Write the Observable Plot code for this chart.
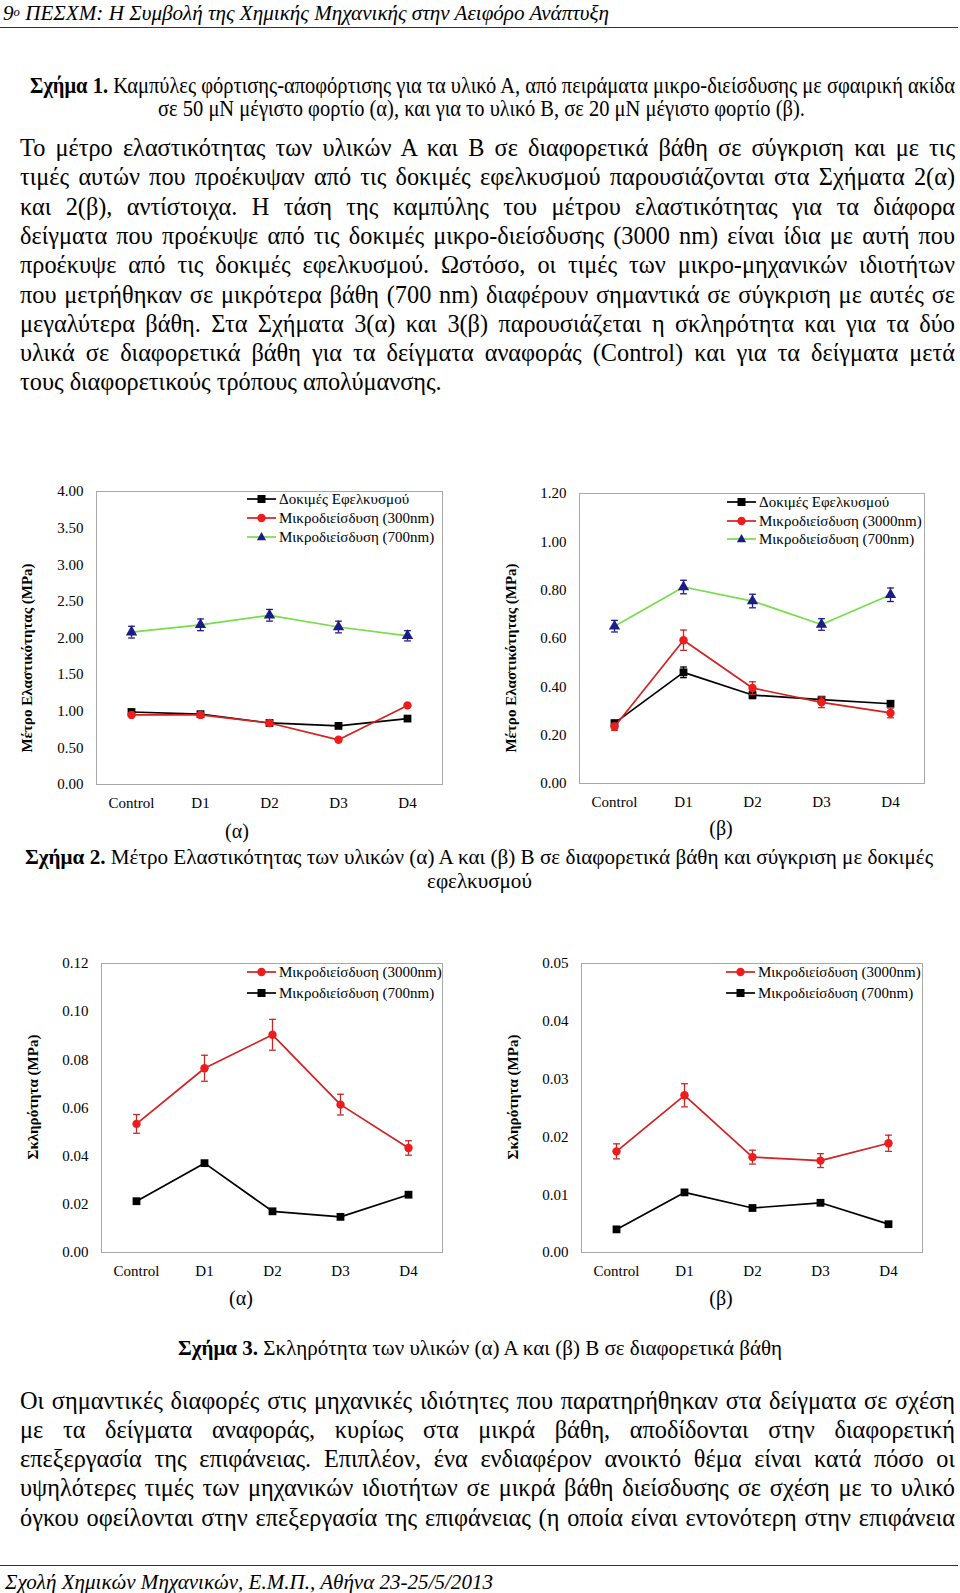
<!DOCTYPE html>
<html><head><meta charset="utf-8">
<script src="https://cdn.jsdelivr.net/npm/d3@7"></script>
<script src="https://cdn.jsdelivr.net/npm/@observablehq/plot@0.6"></script>
<style>
html,body{margin:0;padding:0;background:#fff;}
#page{position:relative;width:960px;height:1593px;overflow:hidden;font-family:"Liberation Serif","Times New Roman",serif;color:#000;}
.abs{position:absolute;white-space:nowrap;}
.rule{position:absolute;left:0;width:958px;height:0;border-top:1.5px solid #333;}
sup{font-size:60%;vertical-align:top;position:relative;top:-1px;}
</style></head><body><div id="page"></div>
<script>
// ---------- data ----------
const categories = ["Control", "D1", "D2", "D3", "D4"];

// Σχήμα 2(α): Μέτρο Ελαστικότητας, υλικό Α
const e2a_tensile = [0.99, 0.96, 0.84, 0.80, 0.90];
const e2a_300 = [0.95, 0.95, 0.84, 0.61, 1.08];
const e2a_700 = [2.08, 2.18, 2.31, 2.15, 2.03];
const e2a_700_err = [0.08, 0.08, 0.08, 0.08, 0.07];
const yTicks2a = [0, 0.5, 1, 1.5, 2, 2.5, 3, 3.5, 4];

// Σχήμα 2(β): Μέτρο Ελαστικότητας, υλικό Β
const e2b_tensile = [0.25, 0.46, 0.366, 0.347, 0.33];
const e2b_tensile_err = [0.01, 0.022, 0.015, 0.01, 0.01];
const e2b_3000 = [0.235, 0.593, 0.395, 0.336, 0.292];
const e2b_3000_err = [0.015, 0.042, 0.026, 0.022, 0.02];
const e2b_700 = [0.651, 0.813, 0.755, 0.658, 0.781];
const e2b_700_err = [0.024, 0.028, 0.028, 0.024, 0.028];
const yTicks2b = [0, 0.2, 0.4, 0.6, 0.8, 1.0, 1.2];

// Σχήμα 3(α): Σκληρότητα, υλικό Α
const h3a_3000 = [0.0534, 0.0765, 0.0904, 0.0614, 0.0434];
const h3a_3000_err = [0.0039, 0.0054, 0.0064, 0.0043, 0.003];
const h3a_700 = [0.0213, 0.0371, 0.0171, 0.0148, 0.024];
const h3a_700_err = [0, 0.001, 0, 0, 0];
const yTicks3a = [0, 0.02, 0.04, 0.06, 0.08, 0.10, 0.12];

// Σχήμα 3(β): Σκληρότητα, υλικό Β
const h3b_3000 = [0.0175, 0.0272, 0.0165, 0.0159, 0.0189];
const h3b_3000_err = [0.0013, 0.002, 0.0012, 0.0012, 0.0014];
const h3b_700 = [0.004, 0.0104, 0.0077, 0.0086, 0.0049];
const yTicks3b = [0, 0.01, 0.02, 0.03, 0.04, 0.05];

const legend2a = ["Δοκιμές Εφελκυσμού", "Μικροδιείσδυση (300nm)", "Μικροδιείσδυση (700nm)"];
const legend2b = ["Δοκιμές Εφελκυσμού", "Μικροδιείσδυση (3000nm)", "Μικροδιείσδυση (700nm)"];
const legend3 = ["Μικροδιείσδυση (3000nm)", "Μικροδιείσδυση (700nm)"];
const yTitle2 = "Μέτρο Ελαστικότητας (MPa)";
const yTitle3 = "Σκληρότητα (MPa)";

const para1 = [
 "Το μέτρο ελαστικότητας των υλικών Α και Β σε διαφορετικά βάθη σε σύγκριση και με τις",
 "τιμές αυτών που προέκυψαν από τις δοκιμές εφελκυσμού παρουσιάζονται στα Σχήματα 2(α)",
 "και 2(β), αντίστοιχα. Η τάση της καμπύλης του μέτρου ελαστικότητας για τα διάφορα",
 "δείγματα που προέκυψε από τις δοκιμές μικρο-διείσδυσης (3000 nm) είναι ίδια με αυτή που",
 "προέκυψε από τις δοκιμές εφελκυσμού. Ωστόσο, οι τιμές των μικρο-μηχανικών ιδιοτήτων",
 "που μετρήθηκαν σε μικρότερα βάθη (700 nm) διαφέρουν σημαντικά σε σύγκριση με αυτές σε",
 "μεγαλύτερα βάθη. Στα Σχήματα 3(α) και 3(β) παρουσιάζεται η σκληρότητα και για τα δύο",
 "υλικά σε διαφορετικά βάθη για τα δείγματα αναφοράς (Control) και για τα δείγματα μετά",
 "τους διαφορετικούς τρόπους απολύμανσης."
];
const para2 = [
 "Οι σημαντικές διαφορές στις μηχανικές ιδιότητες που παρατηρήθηκαν στα δείγματα σε σχέση",
 "με τα δείγματα αναφοράς, κυρίως στα μικρά βάθη, αποδίδονται στην διαφορετική",
 "επεξεργασία της επιφάνειας. Επιπλέον, ένα ενδιαφέρον ανοικτό θέμα είναι κατά πόσο οι",
 "υψηλότερες τιμές των μηχανικών ιδιοτήτων σε μικρά βάθη διείσδυσης σε σχέση με το υλικό",
 "όγκου οφείλονται στην επεξεργασία της επιφάνειας (η οποία είναι εντονότερη στην επιφάνεια"
];

// ---------- styles ----------
const RED = "#ee1c1c", REDLINE = "#d42020", GREEN = "#77dd4a", NAVY = "#1c1c86";
const S = {
  black: {line: "#000", fill: "#000", err: "#000", symbol: "square", r: 4.4},
  red: {line: REDLINE, fill: RED, err: "#c62828", symbol: "circle", r: 4.2},
  green: {line: GREEN, fill: NAVY, err: NAVY, symbol: "triangle", r: 4.2}
};

const page = document.getElementById("page");
const FONT = '"Liberation Serif","Times New Roman",serif';

const capSymbol = {draw(ctx, size) { const w = Math.sqrt(size / Math.PI); ctx.moveTo(-w, 0); ctx.lineTo(w, 0); }};

function seriesMarks(vals, errs, s) {
  const rows = categories.map((c, i) => ({cat: c, v: vals[i], e: errs ? errs[i] : 0}));
  const er = rows.filter(d => d.e > 0);
  const capOpts = {x: "cat", symbol: capSymbol, r: 3.4, stroke: s.err, strokeWidth: 1.3, fill: "none"};
  return [
    Plot.line(rows, {x: "cat", y: "v", stroke: s.line, strokeWidth: 1.7}),
    Plot.ruleX(er, {x: "cat", y1: d => d.v - d.e, y2: d => d.v + d.e, stroke: s.err, strokeWidth: 1.3}),
    Plot.dot(er, {...capOpts, y: d => d.v + d.e}),
    Plot.dot(er, {...capOpts, y: d => d.v - d.e}),
    Plot.dot(rows, {x: "cat", y: "v", symbol: s.symbol, r: s.r, fill: s.fill, stroke: "none"})
  ];
}

function chart(c) {
  const svg = Plot.plot({
    width: 480, height: c.height,
    marginLeft: c.ml, marginRight: c.mr, marginTop: c.mt, marginBottom: c.mb,
    style: {fontFamily: FONT, fontSize: "15px", color: "#000", background: "transparent", overflow: "visible"},
    x: {type: "point", domain: categories, padding: 0.5, label: null, tickSize: 0, tickPadding: 13},
    y: {domain: [0, c.ticks[c.ticks.length - 1]], ticks: c.ticks, tickFormat: d => d.toFixed(2), label: null, tickSize: 0, tickPadding: 13},
    marks: [
      Plot.frame({stroke: "#a8a8a8", strokeWidth: 1}),
      ...c.series.flatMap(s => seriesMarks(s.v, s.e, s.style))
    ]
  });
  svg.style.position = "absolute";
  svg.style.left = c.left + "px";
  svg.style.top = c.top + "px";
  page.appendChild(svg);
}

function text(html, o) {
  const fs = o.fs || 24, lh = o.lh || Math.round(fs * 1.2);
  const d = document.createElement("div");
  d.className = "abs";
  d.style.fontSize = fs + "px";
  d.style.lineHeight = lh + "px";
  d.style.top = (o.y - lh / 2) + "px";
  if (o.italic) d.style.fontStyle = "italic";
  if (o.bold) d.style.fontWeight = "bold";
  const sp = document.createElement("span");
  sp.style.display = "inline-block";
  sp.innerHTML = html;
  d.appendChild(sp);
  page.appendChild(d);
  const nat = sp.getBoundingClientRect().width;
  let scale = o.scale || null;
  if (o.fitW) scale = o.fitW / nat;
  if (o.justifyW) {
    if (nat > o.justifyW) { scale = o.justifyW / nat; }
    else {
      d.style.whiteSpace = "normal";
      d.style.width = o.justifyW + "px";
      d.style.textAlign = "justify";
      d.style.textAlignLast = "justify";
      sp.style.display = "inline";
    }
    d.style.left = o.x + "px";
  }
  const w = nat * (scale || 1);
  if (scale) { sp.style.transform = `scaleX(${scale})`; sp.style.transformOrigin = "left center"; }
  if (!o.justifyW) {
    if (o.anchor === "middle") d.style.left = (o.x - w / 2) + "px";
    else d.style.left = o.x + "px";
  }
  return scale || 1;
}

function rule(y) { const r = document.createElement("div"); r.className = "rule"; r.style.top = y + "px"; page.appendChild(r); }

function symbolSVG(kind, color) {
  if (kind === "square") return `<rect x="-4" y="-4" width="8" height="8" fill="${color}"/>`;
  if (kind === "circle") return `<circle r="4.2" fill="${color}"/>`;
  return `<path d="M0,-5L4.6,3.2L-4.6,3.2Z" fill="${color}"/>`;
}
function legend(items, x0, x1, tx, ys) {
  items.forEach((it, i) => {
    const w = x1 - x0;
    const d = document.createElement("div");
    d.className = "abs";
    d.style.left = x0 + "px"; d.style.top = (ys[i] - 7) + "px";
    d.innerHTML = `<svg width="${w}" height="14" style="display:block"><line x1="0" x2="${w}" y1="7" y2="7" stroke="${it.style.line}" stroke-width="1.7"/><g transform="translate(${w / 2},7)">${symbolSVG(it.style.symbol, it.style.fill)}</g></svg>`;
    page.appendChild(d);
    text(it.label, {x: tx, y: ys[i], fs: 15, lh: 18});
  });
}
function yTitle(t, cx, cy) {
  const d = document.createElement("div");
  d.className = "abs";
  d.style.fontSize = "15px"; d.style.fontWeight = "bold"; d.style.lineHeight = "18px";
  d.textContent = t;
  page.appendChild(d);
  const w = d.getBoundingClientRect().width;
  d.style.left = (cx - w / 2) + "px"; d.style.top = (cy - 9) + "px";
  d.style.transform = "rotate(-90deg)"; d.style.transformOrigin = "50% 50%";
}

// ---------- page text ----------
text('9<sup>o</sup> ΠΕΣΧΜ: Η Συμβολή της Χημικής Μηχανικής στην Αειφόρο Ανάπτυξη', {x: 3, y: 13, fs: 22, italic: true, fitW: 606});
rule(27);
const sc1 = text('<b>Σχήμα 1.</b> Καμπύλες φόρτισης-αποφόρτισης για τα υλικό Α, από πειράματα μικρο-διείσδυσης με σφαιρική ακίδα', {x: 492.5, y: 86, fs: 23, anchor: "middle", fitW: 925});
text('σε 50 μΝ μέγιστο φορτίο (α), και για το υλικό Β, σε 20 μΝ μέγιστο φορτίο (β).', {x: 481, y: 109, fs: 23, anchor: "middle", scale: sc1});
para1.forEach((l, i) => text(l, i < para1.length - 1 ? {x: 20, y: 147.5 + 29.3 * i, fs: 24.3, lh: 29, justifyW: 935} : {x: 20, y: 147.5 + 29.3 * i, fs: 24.3, lh: 29}));

// ---------- charts ----------
chart({left: 0, top: 470, height: 360, mt: 21, mb: 46, ml: 96, mr: 38, ticks: yTicks2a,
  series: [{v: e2a_700, e: e2a_700_err, style: S.green}, {v: e2a_tensile, style: S.black}, {v: e2a_300, style: S.red}]});
chart({left: 480, top: 470, height: 360, mt: 23, mb: 47, ml: 99, mr: 36, ticks: yTicks2b,
  series: [{v: e2b_700, e: e2b_700_err, style: S.green}, {v: e2b_tensile, e: e2b_tensile_err, style: S.black}, {v: e2b_3000, e: e2b_3000_err, style: S.red}]});
chart({left: 0, top: 940, height: 360, mt: 23, mb: 48, ml: 101, mr: 38, ticks: yTicks3a,
  series: [{v: h3a_700, e: h3a_700_err, style: S.black}, {v: h3a_3000, e: h3a_3000_err, style: S.red}]});
chart({left: 480, top: 940, height: 360, mt: 23, mb: 48, ml: 101, mr: 38, ticks: yTicks3b,
  series: [{v: h3b_700, style: S.black}, {v: h3b_3000, e: h3b_3000_err, style: S.red}]});

legend([{label: legend2a[0], style: S.black}, {label: legend2a[1], style: S.red}, {label: legend2a[2], style: S.green}], 247, 276, 279, [499, 518, 537]);
legend([{label: legend2b[0], style: S.black}, {label: legend2b[1], style: S.red}, {label: legend2b[2], style: S.green}], 727, 756, 759, [502, 521, 539]);
legend([{label: legend3[0], style: S.red}, {label: legend3[1], style: S.black}], 247, 276, 279, [972, 993]);
legend([{label: legend3[0], style: S.red}, {label: legend3[1], style: S.black}], 726, 755, 758, [972, 993]);

yTitle(yTitle2, 27, 658);
yTitle(yTitle2, 511, 658);
yTitle(yTitle3, 33, 1097);
yTitle(yTitle3, 513, 1097);

text('(α)', {x: 237, y: 831, fs: 20, anchor: "middle"});
text('(β)', {x: 721, y: 828, fs: 20, anchor: "middle"});
text('(α)', {x: 241, y: 1298, fs: 20, anchor: "middle"});
text('(β)', {x: 721, y: 1298, fs: 20, anchor: "middle"});

const sc2 = text('<b>Σχήμα 2.</b> Μέτρο Ελαστικότητας των υλικών (α) Α και (β) Β σε διαφορετικά βάθη και σύγκριση με δοκιμές', {x: 479, y: 857, fs: 22, anchor: "middle", fitW: 908});
text('εφελκυσμού', {x: 479, y: 881, fs: 22, anchor: "middle", scale: sc2});
text('<b>Σχήμα 3.</b> Σκληρότητα των υλικών (α) Α και (β) Β σε διαφορετικά βάθη', {x: 480, y: 1348, fs: 21, anchor: "middle", fitW: 604});

para2.forEach((l, i) => text(l, {x: 20, y: 1400 + 29.3 * i, fs: 24.3, lh: 29, justifyW: 935}));
rule(1565);
text('Σχολή Χημικών Μηχανικών, Ε.Μ.Π., Αθήνα 23-25/5/2013', {x: 5, y: 1582, fs: 21, lh: 20, italic: true, fitW: 488});
</script></body></html>
